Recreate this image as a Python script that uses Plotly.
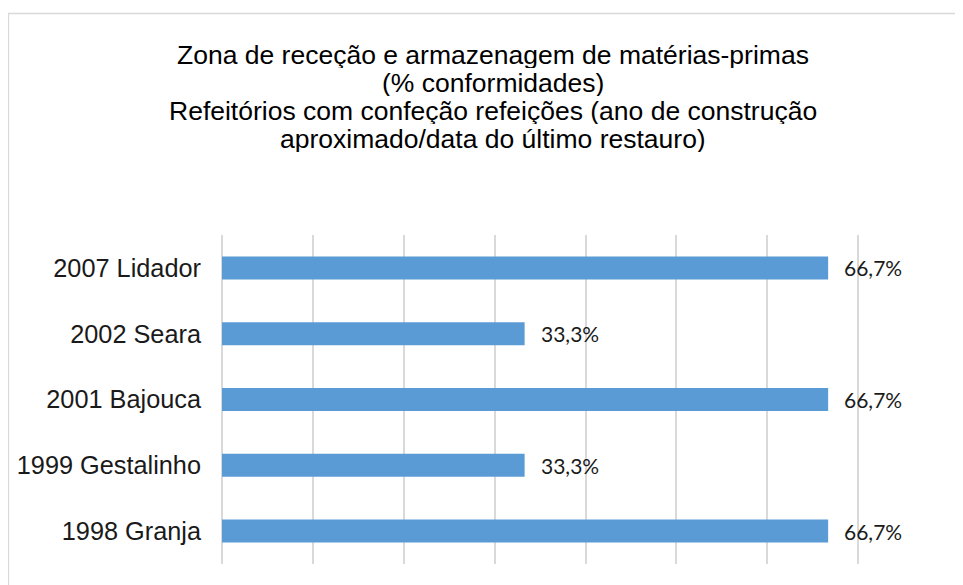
import plotly.graph_objects as go

categories = ["2007 Lidador", "2002 Seara", "2001 Bajouca", "1999 Gestalinho", "1998 Granja"]
values = [66.7, 33.3, 66.7, 33.3, 66.7]
title_lines = [
    "Zona de receção e armazenagem de matérias-primas",
    "(% conformidades)",
    "Refeitórios com confeção refeições (ano de construção",
    "aproximado/data do último restauro)",
]

# page body adds an 8px margin; work in screen pixels and subtract it
OFF = 8
W, H = 963 - OFF, 585 - OFF
L, T = 222 - OFF, 235 - OFF
R = W - (948.6 - OFF)
B = H - (564 - OFF)
pw, ph = W - L - R, H - T - B

def px_to_paper_x(px):
    return (px - OFF - L) / pw

def px_to_paper_y(py):
    return (H - B - (py - OFF)) / ph

fig = go.Figure()
fig.add_trace(go.Bar(
    x=values, y=categories, orientation="h",
    marker=dict(color="#5b9bd5", line=dict(width=0)),
    hoverinfo="x+y",
))

for v, c in zip(values, categories):
    fig.add_annotation(
        x=v, y=c, xref="x", yref="y",
        text=f"{v:.1f}%".replace(".", ","),
        showarrow=False, xanchor="left", yanchor="middle",
        xshift=14, font=dict(family="Lato", size=21, color="#1a1a1a"),
    )

baselines = [63, 91, 119, 147]
for line, bl in zip(title_lines, baselines):
    fig.add_annotation(
        x=px_to_paper_x(493), y=px_to_paper_y(bl - 8), xref="paper", yref="paper",
        text=line, showarrow=False, xanchor="center", yanchor="middle",
        height=26, valign="middle",
        font=dict(family="Liberation Sans, Arial", size=26.5, color="#000000"),
    )

fig.add_shape(
    type="rect", xref="paper", yref="paper",
    x0=px_to_paper_x(8.5), x1=px_to_paper_x(1000),
    y0=px_to_paper_y(620), y1=px_to_paper_y(13.5),
    line=dict(color="#d9d9d9", width=1.5), fillcolor="rgba(0,0,0,0)", layer="below",
)

fig.update_layout(
    width=W, height=H,
    margin=dict(l=L, r=R, t=T, b=B, autoexpand=False),
    paper_bgcolor="white", plot_bgcolor="white",
    showlegend=False, bargap=0.65,
    xaxis=dict(range=[0, 80], dtick=10, showticklabels=False, showgrid=True,
               gridcolor="#d9d9d9", gridwidth=1.5, zeroline=True,
               zerolinecolor="#d9d9d9", zerolinewidth=1.5, showline=False, fixedrange=True),
    yaxis=dict(autorange="reversed", showgrid=False, showline=False, ticks="",
               ticklabelstandoff=20,
               tickfont=dict(family="Liberation Sans, Arial", size=25.3, color="#1a1a1a")),
)

fig.write_html("out.html")
